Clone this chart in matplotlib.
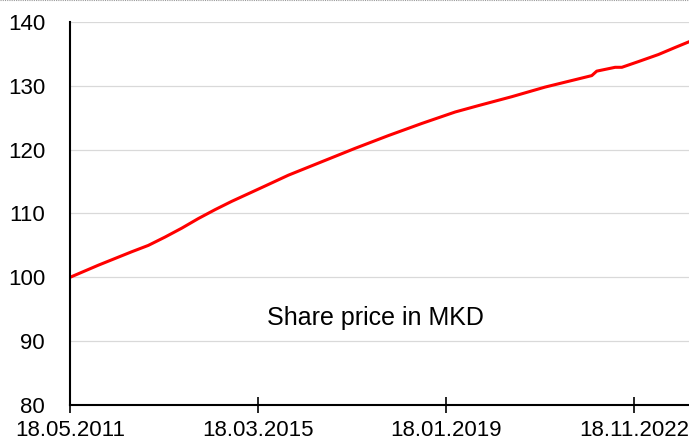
import numpy as np
import pandas as pd
import matplotlib
matplotlib.use('Agg')
import matplotlib.pyplot as plt
from matplotlib.lines import Line2D

plt.rcParams['font.family'] = ['Liberation Sans', 'DejaVu Sans']

#Values
dates = ['2011-05-18', '2011-12-15', '2012-08-19', '2012-12-21', '2013-04-24',
         '2013-08-27', '2013-12-28', '2014-05-02', '2014-09-03', '2015-01-05',
         '2015-05-09', '2015-10-30', '2016-07-04', '2017-03-09', '2017-11-12',
         '2018-07-19', '2019-03-25', '2019-09-14', '2020-05-20', '2021-01-22',
         '2021-07-15', '2022-01-05', '2022-02-11', '2022-06-28', '2022-08-17',
         '2022-12-19', '2023-05-16', '2023-09-17', '2023-12-30']
price = [100.0, 101.9, 104.0, 105.0, 106.3,
         107.7, 109.2, 110.6, 111.9, 113.1,
         114.3, 116.0, 118.1, 120.2, 122.2,
         124.1, 125.9, 126.9, 128.3, 129.8,
         130.7, 131.6, 132.3, 132.9, 132.9,
         133.8, 134.9, 136.0, 136.9]
tick_dates = ['2011-05-18', '2015-03-18', '2019-01-18', '2022-11-18']
tick_labels = ['18.05.2011', '18.03.2015', '18.01.2019', '18.11.2022']

x = pd.to_datetime(dates)
xt = pd.to_datetime(tick_dates)

fig = plt.figure(figsize=(6.89, 4.45), dpi=100)
ax = fig.add_axes([0.1016, 0.0899, 0.8984, 0.8607])

ax.plot(x, price, color='#ff0000', linewidth=2.2, solid_joinstyle='round')

ax.set_ylim(80, 140)
ax.set_yticks([80, 90, 100, 110, 120, 130, 140])
ax.set_xlim(x[0], x[-1])
ax.set_xticks(xt)
ax.set_xticklabels(tick_labels)

ax.grid(axis='y', color='#d9d9d9', linewidth=0.9)
ax.set_axisbelow(True)
for s in ['top', 'right']:
    ax.spines[s].set_visible(False)
for s in ['left', 'bottom']:
    ax.spines[s].set_linewidth(1.5)
    ax.spines[s].set_color('black')

ax.tick_params(axis='y', length=0, pad=18, labelsize=16)
ax.tick_params(axis='x', direction='inout', length=11, width=1.2, pad=5, labelsize=16)

ax.text(0.494, 0.227, 'Share price in MKD', transform=ax.transAxes,
        ha='center', va='center', fontsize=18)

#thin dotted border at the top edge
fig.add_artist(Line2D([0, 1], [0.999, 0.999], transform=fig.transFigure,
                      color='#999999', linestyle=(0, (1, 1)), linewidth=0.8))

fig.savefig('out.png', dpi=100)
